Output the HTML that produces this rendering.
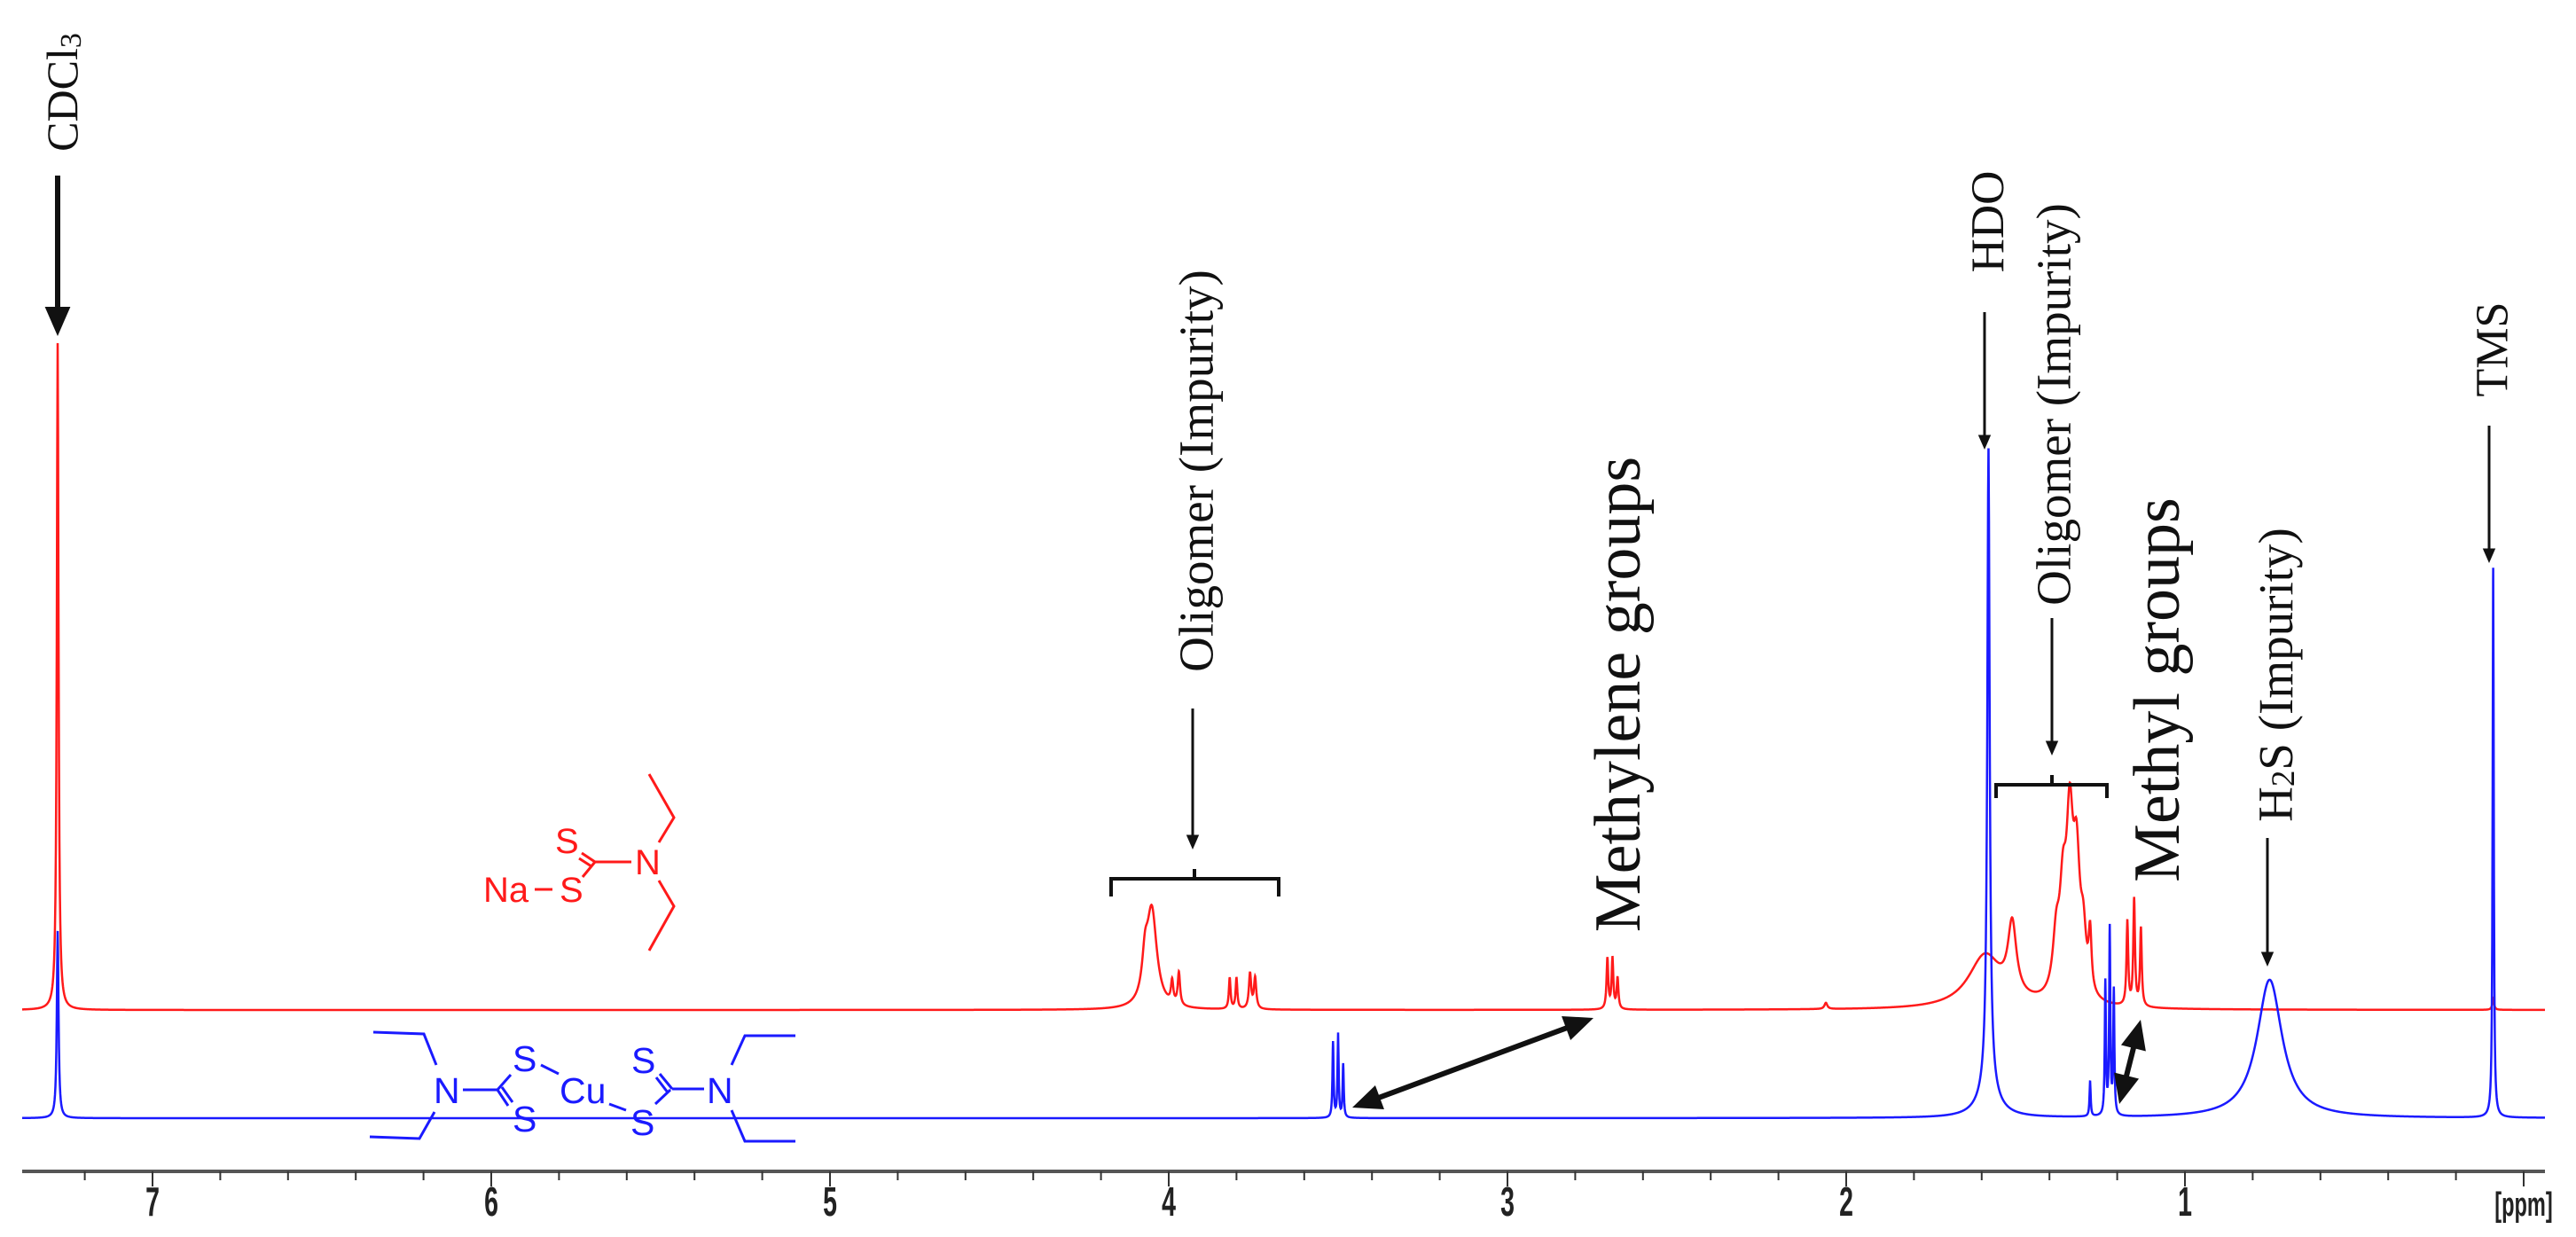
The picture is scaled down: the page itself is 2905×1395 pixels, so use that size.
<!DOCTYPE html>
<html><head><meta charset="utf-8">
<style>
html,body{margin:0;padding:0;background:#fff;}
svg{display:block;}
.lbl{font-family:"Liberation Serif",serif;fill:#111;}
.mol{font-family:"Liberation Sans",sans-serif;}
.tick{font-family:"Liberation Sans",sans-serif;font-weight:bold;fill:#222;}
</style></head>
<body>
<svg id="chart" width="2905" height="1395" viewBox="0 0 2905 1395" xmlns="http://www.w3.org/2000/svg">
<g id="axis"></g>
<g id="spectra"></g>

<g class="lbl">
  <text transform="translate(70,104) rotate(-90)" text-anchor="middle" dominant-baseline="central" font-size="50">CDCl<tspan font-size="34" dy="10">3</tspan></text>
  <text transform="translate(1349,531) rotate(-90)" text-anchor="middle" dominant-baseline="central" font-size="55">Oligomer (Impurity)</text>
  <text transform="translate(1825,783) rotate(-90)" text-anchor="middle" dominant-baseline="central" font-size="74">Methylene groups</text>
  <text transform="translate(2242,250) rotate(-90)" text-anchor="middle" dominant-baseline="central" font-size="53">HDO</text>
  <text transform="translate(2316,456) rotate(-90)" text-anchor="middle" dominant-baseline="central" font-size="55">Oligomer (Impurity)</text>
  <text transform="translate(2433,778) rotate(-90)" text-anchor="middle" dominant-baseline="central" font-size="74">Methyl groups</text>
  <text transform="translate(2566,761) rotate(-90)" text-anchor="middle" dominant-baseline="central" font-size="55">H<tspan font-size="37" dy="9">2</tspan><tspan dy="-9">S (Impurity)</tspan></text>
  <text transform="translate(2811,394) rotate(-90)" text-anchor="middle" dominant-baseline="central" font-size="52">TMS</text>
</g>
<g id="arrows"></g>

<g fill="none" stroke="#111" stroke-width="4">
  <path d="M1253,1011 L1253,991 L1442,991 L1442,1011 M1347,991 L1347,980"/>
  <path d="M2251,900 L2251,885 L2376,885 L2376,900 M2314,885 L2314,874"/>
</g>

<g stroke="#ff1a1a" stroke-width="3" fill="none">
  <line x1="603" y1="1003" x2="623" y2="1003"/>
  <line x1="657" y1="989" x2="671" y2="972"/>
  <line x1="671" y1="972" x2="656" y2="962"/>
  <line x1="667" y1="977" x2="653" y2="968"/>
  <line x1="671" y1="972" x2="712" y2="972"/>
  <polyline points="743,950 760,922 732,873"/>
  <polyline points="743,993 760,1022 732,1072"/>
</g>
<g class="mol" fill="#ff1a1a" font-size="40">
  <text x="545" y="1017">Na</text>
  <text x="631" y="1017">S</text>
  <text x="626" y="962">S</text>
  <text x="716" y="986">N</text>
</g>

<g stroke="#1a1aff" stroke-width="3" fill="none">
  <polyline points="492,1201 478,1166 421,1164"/>
  <polyline points="490,1254 473,1284 417,1282"/>
  <line x1="522" y1="1229" x2="561" y2="1229"/>
  <line x1="561" y1="1229" x2="576" y2="1212"/>
  <line x1="561" y1="1229" x2="573" y2="1247"/>
  <line x1="566" y1="1226" x2="578" y2="1243"/>
  <line x1="610" y1="1201" x2="630" y2="1211"/>
  <line x1="687" y1="1245" x2="706" y2="1252"/>
  <line x1="739" y1="1245" x2="756" y2="1229"/>
  <line x1="744" y1="1211" x2="758" y2="1228"/>
  <line x1="740" y1="1215" x2="753" y2="1232"/>
  <line x1="758" y1="1228" x2="794" y2="1228"/>
  <polyline points="825,1201 840,1168 897,1168"/>
  <polyline points="825,1252 840,1287 897,1287"/>
</g>
<g class="mol" fill="#1a1aff" font-size="41">
  <text x="489" y="1244">N</text>
  <text x="578" y="1208">S</text>
  <text x="578" y="1276">S</text>
  <text x="631" y="1244">Cu</text>
  <text x="711" y="1280">S</text>
  <text x="712" y="1210">S</text>
  <text x="797" y="1244">N</text>
</g>
</svg>

<script>
// ---- axis data ----
const majorTicks = [7, 6, 5, 4, 3, 2, 1, 0];
const tickLabels = ["7", "6", "5", "4", "3", "2", "1", "[ppm]"];
const minorStep = 0.2;

// ---- red spectrum (sodium salt): ppm, intensity, half-width ----
const redPpm    = [7.28, 4.07, 4.05, 3.99, 3.97, 3.82, 3.80, 3.76, 3.745, 2.705, 2.69, 2.675, 2.06, 1.59, 1.51, 1.38, 1.36, 1.34, 1.32, 1.30, 1.28, 1.17, 1.15, 1.13, 0.09];
const redInt    = [752,  40,   110,  25,   37,   35,   35,   40,   35,    57,    57,   35,    7,    60,   80,   60,   100,  180,  140,  60,   65,   95,   120,  88,   13];
const redWidth  = [0.003,0.01, 0.018,0.004,0.004,0.003,0.003,0.004,0.004, 0.003, 0.003,0.003, 0.005,0.06, 0.015,0.012,0.012,0.012,0.012,0.01, 0.005,0.003,0.003,0.003,0.003];

// ---- blue spectrum (copper complex) ----
const bluePpm   = [7.28, 3.515, 3.50, 3.485, 1.58, 1.58, 1.58, 1.28, 1.235, 1.222, 1.21, 0.75, 0.09];
const blueInt   = [211,  85,    94,   60,    690,  45,   20,   40,   150,   210,   140,  156,  620];
const blueWidth = [0.003,0.002, 0.002,0.002, 0.004,0.015,0.04, 0.002,0.002, 0.002, 0.002,0.045,0.002];

const NS = "http://www.w3.org/2000/svg";
const X0 = 172, PX_PER_PPM = 382, AXIS_Y = 1321;
const RED_BASE = 1139, BLUE_BASE = 1261;
const X_LEFT = 25, X_RIGHT = 2870;
function xOf(p){ return X0 + (7 - p) * PX_PER_PPM; }
function ppmOf(x){ return 7 - (x - X0) / PX_PER_PPM; }

const axisG = document.getElementById('axis');
const axLine = document.createElementNS(NS, 'line');


axLine.setAttribute('x1', X_LEFT); axLine.setAttribute('x2', X_RIGHT);
axLine.setAttribute('y1', AXIS_Y); axLine.setAttribute('y2', AXIS_Y);
axLine.setAttribute('stroke', '#555'); axLine.setAttribute('stroke-width', '4');
axisG.appendChild(axLine);
for (let k = 0; ; k++) {
  const p = 7.2 - k * minorStep;
  if (p < -0.001) break;
  const isMajor = Math.abs(p - Math.round(p)) < 1e-6;
  const t = document.createElementNS(NS, 'line');
  
  
  const x = xOf(p);
  t.setAttribute('x1', x); t.setAttribute('x2', x);
  t.setAttribute('y1', AXIS_Y); t.setAttribute('y2', AXIS_Y + (isMajor ? 17 : 10));
  t.setAttribute('stroke', '#333'); t.setAttribute('stroke-width', '2');
  axisG.appendChild(t);
}
majorTicks.forEach((p, i) => {
  const tx = document.createElementNS(NS, 'text');
  
  
  tx.setAttribute('class', 'tick');
  const x = xOf(p);
  tx.setAttribute('transform', 'translate(' + x + ',1371) scale(0.62,1)');
  tx.setAttribute('text-anchor', 'middle');
  tx.setAttribute('font-size', i === 7 ? '38' : '46');
  tx.textContent = tickLabels[i];
  axisG.appendChild(tx);
});

function buildPath(ppms, ints, widths, base){
  const xs = [];
  for (let x = X_LEFT; x <= X_RIGHT; x += 0.5) xs.push(x);
  ppms.forEach(p => xs.push(xOf(p)));
  xs.sort((a,b) => a - b);
  let d = '';
  xs.forEach((x, i) => {
    const p = ppmOf(x);
    let s = 0;
    for (let j = 0; j < ppms.length; j++) {
      const u = (p - ppms[j]) / widths[j];
      s += ints[j] / (1 + u * u);
    }
    d += (i ? 'L' : 'M') + x.toFixed(2) + ',' + (base - s).toFixed(2);
  });
  return d;
}
const specG = document.getElementById('spectra');
const red = document.createElementNS(NS, 'path');


red.setAttribute('d', buildPath(redPpm, redInt, redWidth, RED_BASE));
red.setAttribute('fill', 'none'); red.setAttribute('stroke', '#ff1a1a'); red.setAttribute('stroke-width', '2.5');
specG.appendChild(red);
const blue = document.createElementNS(NS, 'path');


blue.setAttribute('d', buildPath(bluePpm, blueInt, blueWidth, BLUE_BASE));
blue.setAttribute('fill', 'none'); blue.setAttribute('stroke', '#1a1aff'); blue.setAttribute('stroke-width', '2.5');
specG.appendChild(blue);

const arrG = document.getElementById('arrows');
function arrowHead(x, y, ang, len, half){
  const c = Math.cos(ang), s = Math.sin(ang);
  const bx = x - c * len, by = y - s * len;
  return x + ',' + y + ' ' + (bx - s * half) + ',' + (by + c * half) + ' ' + (bx + s * half) + ',' + (by - c * half);
}
function arrow(name, x1, y1, x2, y2, w, double){
  const g = document.createElementNS(NS, 'g');
  
  
  const ang = Math.atan2(y2 - y1, x2 - x1);
  const hl = w * 5.5, hw = w * 2.4;
  const ln = document.createElementNS(NS, 'line');
  ln.setAttribute('x1', x1 + (double ? Math.cos(ang) * hl * 0.8 : 0));
  ln.setAttribute('y1', y1 + (double ? Math.sin(ang) * hl * 0.8 : 0));
  ln.setAttribute('x2', x2 - Math.cos(ang) * hl * 0.8);
  ln.setAttribute('y2', y2 - Math.sin(ang) * hl * 0.8);
  ln.setAttribute('stroke', '#111'); ln.setAttribute('stroke-width', w);
  g.appendChild(ln);
  const h = document.createElementNS(NS, 'polygon');
  h.setAttribute('points', arrowHead(x2, y2, ang, hl, hw));
  h.setAttribute('fill', '#111');
  g.appendChild(h);
  if (double) {
    const h2 = document.createElementNS(NS, 'polygon');
    h2.setAttribute('points', arrowHead(x1, y1, ang + Math.PI, hl, hw));
    h2.setAttribute('fill', '#111');
    g.appendChild(h2);
  }
  arrG.appendChild(g);
}
arrow('cdcl3-arrow', 65, 198, 65, 379, 6, false);
arrow('oligomer-arrow-1', 1345, 799, 1345, 958, 3, false);
arrow('hdo-arrow', 2238, 352, 2238, 507, 3, false);
arrow('oligomer-arrow-2', 2314, 697, 2314, 852, 3, false);
arrow('h2s-arrow', 2557, 945, 2557, 1090, 3, false);
arrow('tms-arrow', 2807, 480, 2807, 635, 3, false);
arrow('methylene-double-arrow', 1525, 1249, 1797, 1148, 6, true);
arrow('methyl-double-arrow', 2390, 1245, 2414, 1150, 6, true);
</script>
</body></html>
